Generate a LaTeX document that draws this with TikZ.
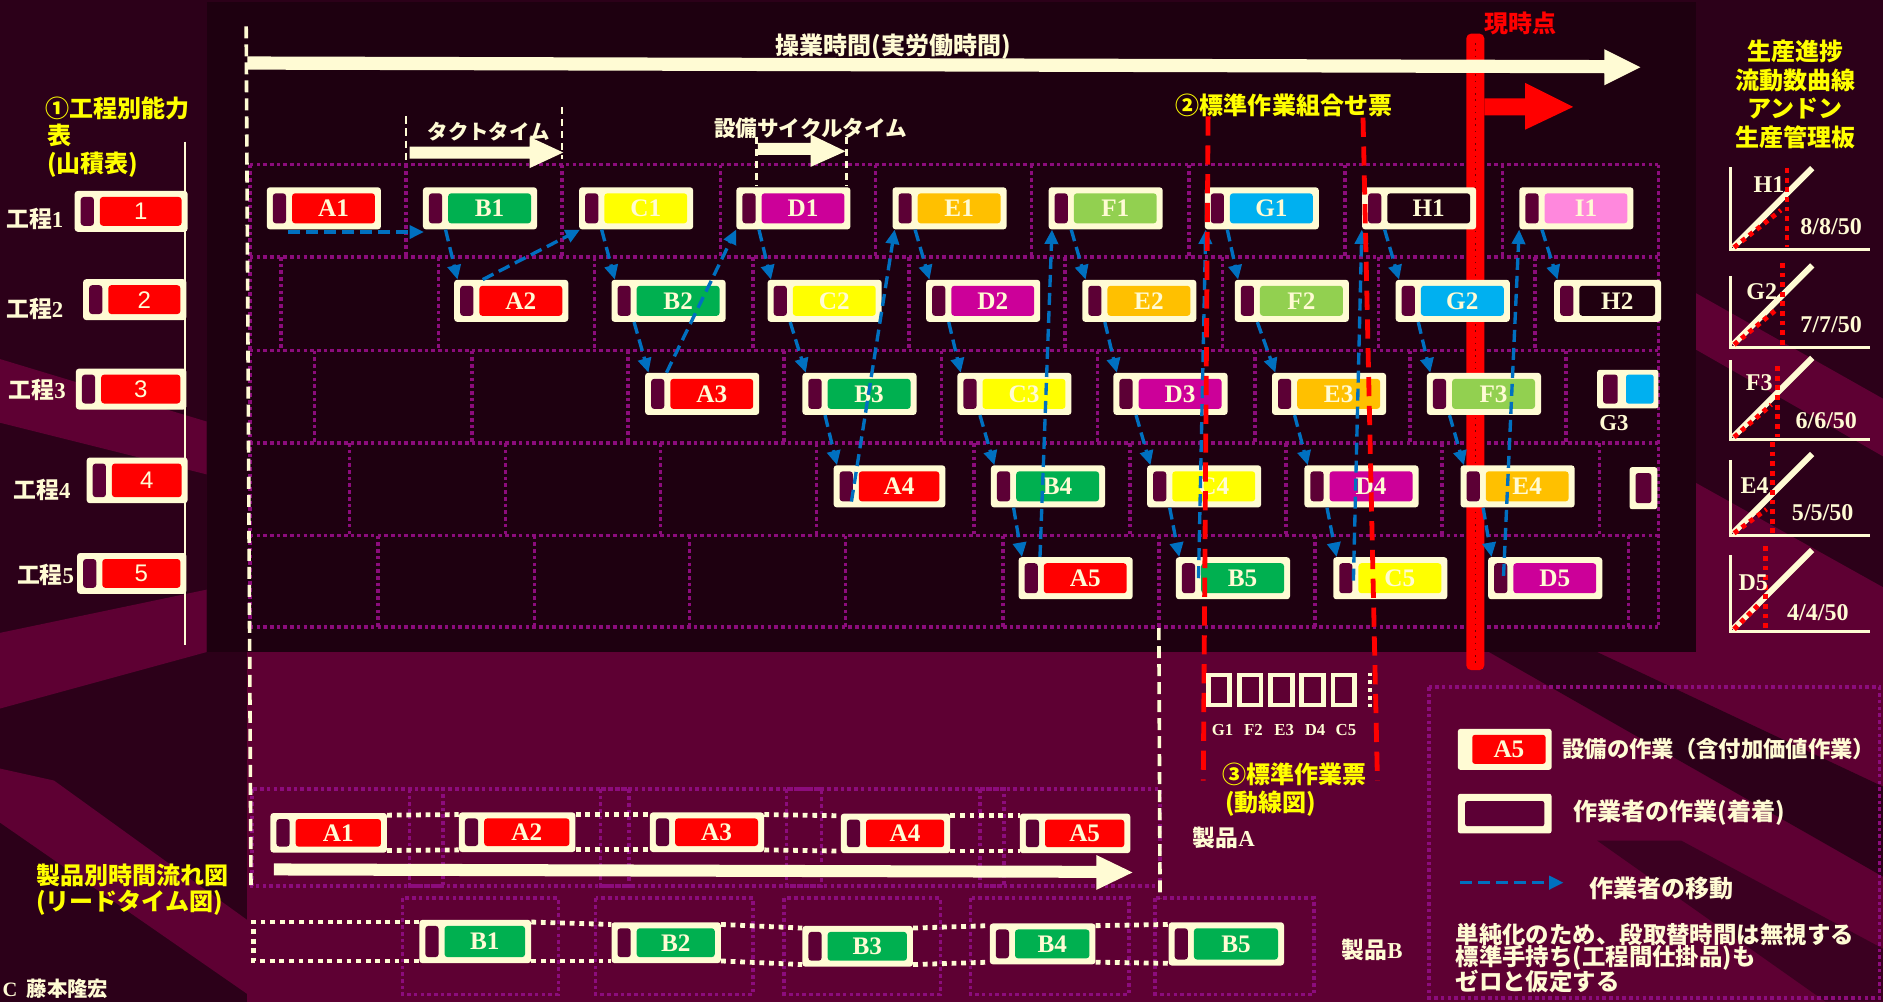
\documentclass[tikz,border=0pt]{standalone}
\usepackage{fontspec}
\setmainfont{Liberation Serif}
\newfontfamily\jp{Noto Sans CJK JP}
\newfontfamily\arialf{Liberation Sans}
\usetikzlibrary{arrows.meta,calc}

\definecolor{cream}{HTML}{FFFBD4}
\definecolor{bgdark}{HTML}{2C0019}
\definecolor{panelc}{HTML}{1E0010}
\definecolor{bandc}{HTML}{5E0033}
\definecolor{slotc}{HTML}{5C0035}
\definecolor{gridc}{HTML}{8C0C7C}
\definecolor{bluec}{HTML}{0070C0}
\definecolor{redc}{HTML}{FF0000}
\definecolor{cA}{HTML}{FF0000}
\definecolor{cB}{HTML}{00B050}
\definecolor{cC}{HTML}{FFFF00}
\definecolor{cD}{HTML}{CC0099}
\definecolor{cE}{HTML}{FFC000}
\definecolor{cF}{HTML}{92D050}
\definecolor{cG}{HTML}{00B0F0}
\definecolor{cH}{HTML}{200010}
\definecolor{cI}{HTML}{FF88DD}
\definecolor{yel}{HTML}{FFFF00}

\tikzset{
  tb/.style={fill=cream, rounded corners=2.5pt, minimum width=95pt, minimum height=35pt,
    inner sep=0pt, text=cream, font=\bfseries\fontsize{21}{21}\selectfont},
  gridl/.style={draw=gridc, line width=3pt, dash pattern=on 3pt off 2.6pt},
  mv/.style={draw=bluec, line width=2.8pt, dash pattern=on 10pt off 5pt,
    -{Triangle[length=12pt,width=11pt]}},
  jt/.style={text=cream, font=\jp\bfseries\fontsize{20}{24}\selectfont, inner sep=0pt},
  yt/.style={jt, text=yel},
  ct/.style={text=cream, font=\bfseries\fontsize{20}{20}\selectfont, inner sep=0pt},
  cdash/.style={draw=cream, line width=3pt, dash pattern=on 10pt off 5pt},
  cdots/.style={draw=cream, line width=4pt, dash pattern=on 4pt off 4pt},
  rdash/.style={draw=redc, line width=4pt, dash pattern=on 16pt off 8pt},
  reddot/.style={draw=redc, line width=4pt, dash pattern=on 4pt off 4pt},
  bufbox/.style={draw=cream, line width=4pt, minimum width=18pt, minimum height=25pt, inner sep=0pt},
}

\newcommand\taskbox[6][]{%
  \node[tb,#1,anchor=west,path picture={%
    \fill[slotc] ([xshift=5pt,yshift=-5pt]path picture bounding box.north west)
      rectangle ([xshift=16pt,yshift=5pt]path picture bounding box.south west);
    \fill[#5] ([xshift=21pt,yshift=-5pt]path picture bounding box.north west)
      rectangle ([xshift=-5pt,yshift=5pt]path picture bounding box.south east);}]
    (#2) at (#3,#4) {\hspace*{16pt}#6};}

\newcommand\chartax[6]{%
  \coordinate (#1o) at (1441,#2);
  \draw[cream, line width=2.5pt] (1441,#3) -- (#1o) -- (1557,#2);
  \draw[cream, line width=5pt] ($(#1o)+(2,-2)$) -- ($(#1o)+(68,-68)$);
  \draw[reddot] (#4,#5) -- (#4,#2-2);
  \draw[reddot] ($(#1o)+(3,-2)$) -- (#4-5,#6);}

\begin{document}
\begin{tikzpicture}[x=1pt,y=-1pt]
\useasboundingbox (0,0) rectangle (1568,834);
\clip (0,0) rectangle (1568,834);
% ---------- background ----------
\fill[bgdark] (0,0) rectangle (1568,834);
\fill[bandc] (0,299) -- (172,351) -- (172,395) -- (0,352) -- cycle;
\fill[bandc] (0,527) -- (172,491) -- (172,543) -- (0,590) -- cycle;
\fill[bandc] (206,543) rectangle (1568,834);
\fill[bandc] (0,640) -- (45,650) -- (300,834) -- (215,834) -- (0,685) -- cycle;
\fill[bandc] (1412,244) -- (1568,332) -- (1568,380) -- (1412,291) -- cycle;
\fill[bandc] (1412,402) -- (1568,489) -- (1568,543) -- (1412,543) -- cycle;
\fill[bgdark] (1240,543) -- (1330,543) -- (1568,655) -- (1568,730) -- cycle;
\fill[bgdark!70!bandc] (1330,700) -- (1400,700) -- (1568,790) -- (1568,834) -- (1520,834) -- cycle;
\fill[panelc] (172,2) rectangle (1412,543);

% ---------- grid ----------
\foreach \y in {137,214,292,369,446,522} \draw[gridl] (208,\y) -- (1381,\y);
\draw[gridl] (208,137) -- (208,522);
\draw[gridl] (1381,137) -- (1381,522);
\foreach \x in {338,468,600,729,859,990,1120,1251} \draw[gridl] (\x,137) -- (\x,214);
\foreach \x in {234,365,495,627,757,887,1018,1148,1278} \draw[gridl] (\x,214) -- (\x,292);
\foreach \x in {262,393,523,653,784,914,1045,1174,1304} \draw[gridl] (\x,292) -- (\x,369);
\foreach \x in {291,421,550,680,811,941,1071,1201,1332} \draw[gridl] (\x,369) -- (\x,446);
\foreach \x in {315,445,574,704,835,965,1095,1225,1356} \draw[gridl] (\x,446) -- (\x,522);

% product rows grid
\foreach \a/\b in {210/369,341/524,500/684,655/836,816/966} \draw[gridl] (\a,657) rectangle (\b,738);
\foreach \a/\b in {335/465,496/627,653/783,808/940,962/1094} \draw[gridl] (\a,748) rectangle (\b,828);
% legend frame
\draw[gridl] (1190,572) rectangle (1565,831);

% ---------- red current-time bar ----------
\fill[redc, rounded corners=4pt] (1221,28) rectangle (1236,558);
\draw[draw=red!45!black, line width=1.2pt, dash pattern=on 1.2pt off 4pt] (1228.5,36) -- (1228.5,552);
\fill[redc] (1236,82) -- (1270,82) -- (1270,69) -- (1310,89) -- (1270,108) -- (1270,96) -- (1236,96) -- cycle;
\node[jt, text=redc] (now) at (1266,19.5) {現時点};

% ---------- top arrow & headings ----------
\draw[cdash] (205,22) -- (209,738);
\draw[cdash] (965,523) -- (966,748);
\fill[cream] (206,47) -- (1336,50) -- (1336,41) -- (1366,56) -- (1336,71) -- (1336,61) -- (206,58) -- cycle;
\node[jt] (optime) at (744,39) {操業時間(実労働時間)};

\draw[cdash, line width=2.2pt, dash pattern=on 6pt off 4pt] (338,97) -- (338,133);
\draw[cdash, line width=2.2pt, dash pattern=on 6pt off 4pt] (468,89) -- (468,132);
\fill[cream] (341,122) -- (441,122) -- (441,114) -- (469,127) -- (441,140) -- (441,132) -- (341,132) -- cycle;
\node[jt, font=\jp\bfseries\fontsize{17}{20}\selectfont] (takt) at (407,110) {タクトタイム};

\draw[cdash, line width=2.2pt, dash pattern=on 6pt off 4pt] (630,114) -- (630,155);
\draw[cdash, line width=2.2pt, dash pattern=on 6pt off 4pt] (705,114) -- (705,155);
\fill[cream] (631,119) -- (675,119) -- (675,112) -- (704,126) -- (675,139) -- (675,129) -- (631,129) -- cycle;
\node[jt, font=\jp\bfseries\fontsize{18}{20}\selectfont] (cycle) at (675,107) {設備サイクルタイム};

\node[yt, anchor=west] (swc) at (979,88) {②標準作業組合せ票};

% right headings
\node[yt] (rh1) at (1495,43) {生産進捗};
\node[yt] (rh2) at (1495,67) {流動数曲線};
\node[yt] (rh3) at (1495,90) {アンドン};
\node[yt] (rh4) at (1495,114) {生産管理板};

% left headings
\node[yt, anchor=west] (lh1) at (38,90) {①工程別能力};
\node[yt, anchor=west] (lh2) at (39,113) {表};
\node[yt, anchor=west] (lh3) at (39,137) {(山積表)};
\draw[cream, line width=2.2pt] (154,118) -- (154,537);

% process boxes (left)
\taskbox[minimum width=94pt,minimum height=34pt,font=\arialf\fontsize{20}{20}\selectfont]{P1}{62}{176}{cA}{1}
\taskbox[minimum width=86pt,minimum height=34pt,font=\arialf\fontsize{20}{20}\selectfont]{P2}{69}{249.5}{cA}{2}
\taskbox[minimum width=92pt,minimum height=34pt,font=\arialf\fontsize{20}{20}\selectfont]{P3}{63}{324}{cA}{3}
\taskbox[minimum width=84pt,minimum height=38pt,font=\arialf\fontsize{20}{20}\selectfont]{P4}{72}{400}{cA}{4}
\taskbox[minimum width=91pt,minimum height=34pt,font=\arialf\fontsize{20}{20}\selectfont]{P5}{64}{477.5}{cA}{5}
\node[jt, anchor=west, font=\jp\bfseries\fontsize{19}{19}\selectfont] (L1) at (5,182) {工程{\rmfamily 1}};
\node[jt, anchor=west, font=\jp\bfseries\fontsize{19}{19}\selectfont] (L2) at (5,257) {工程{\rmfamily 2}};
\node[jt, anchor=west, font=\jp\bfseries\fontsize{19}{19}\selectfont] (L3) at (7,325) {工程{\rmfamily 3}};
\node[jt, anchor=west, font=\jp\bfseries\fontsize{19}{19}\selectfont] (L4) at (11,408) {工程{\rmfamily 4}};
\node[jt, anchor=west, font=\jp\bfseries\fontsize{19}{19}\selectfont] (L5) at (14,479) {工程{\rmfamily 5}};

% ---------- task boxes ----------
\taskbox{A1}{222}{173.5}{cA}{A1}
\taskbox{B1}{352}{173.5}{cB}{B1}
\taskbox{C1}{482}{173.5}{cC}{C1}
\taskbox{D1}{613}{173.5}{cD}{D1}
\taskbox{E1}{743}{173.5}{cE}{E1}
\taskbox{F1}{873}{173.5}{cF}{F1}
\taskbox{G1}{1003}{173.5}{cG}{G1}
\taskbox{H1}{1134}{173.5}{cH}{H1}
\taskbox{I1}{1265}{173.5}{cI}{I1}

\taskbox{A2}{378}{250.5}{cA}{A2}
\taskbox{B2}{509}{250.5}{cB}{B2}
\taskbox{C2}{639}{250.5}{cC}{C2}
\taskbox{D2}{771}{250.5}{cD}{D2}
\taskbox{E2}{901}{250.5}{cE}{E2}
\taskbox{F2}{1028}{250.5}{cF}{F2}
\taskbox{G2}{1162}{250.5}{cG}{G2}
\taskbox[minimum width=89pt]{H2}{1294}{250.5}{cH}{H2}

\taskbox{A3}{537}{328}{cA}{A3}
\taskbox{B3}{668}{328}{cB}{B3}
\taskbox{C3}{797}{328}{cC}{C3}
\taskbox{D3}{927}{328}{cD}{D3}
\taskbox{E3}{1059}{328}{cE}{E3}
\taskbox{F3}{1188}{328}{cF}{F3}

\taskbox[minimum width=93pt]{A4}{694}{405}{cA}{A4}
\taskbox{B4}{825}{405}{cB}{B4}
\taskbox{C4}{955}{405}{cC}{C4}
\taskbox{D4}{1086}{405}{cD}{D4}
\taskbox{E4}{1216}{405}{cE}{E4}

\taskbox{A5}{848}{481.5}{cA}{A5}
\taskbox{B5}{979}{481.5}{cB}{B5}
\taskbox{C5}{1110}{481.5}{cC}{C5}
\taskbox{D5}{1239}{481.5}{cD}{D5}

% G3 small box and row-4 stub
\node[fill=cream, rounded corners=2pt, minimum width=51pt, minimum height=32pt, inner sep=0pt,
  path picture={\fill[slotc] ([xshift=5pt,yshift=-4pt]path picture bounding box.north west)
    rectangle ([xshift=17pt,yshift=4pt]path picture bounding box.south west);
    \fill[cG] ([xshift=24pt,yshift=-4pt]path picture bounding box.north west)
    rectangle ([xshift=-4pt,yshift=4pt]path picture bounding box.south east);}]
  (G3) at (1355.5,324) {};
\node[ct, font=\bfseries\fontsize{19}{19}\selectfont] (G3t) at (1344,352) {G3};
\node[fill=cream, rounded corners=2pt, minimum width=23pt, minimum height=35pt, inner sep=0pt,
  path picture={\fill[slotc] ([xshift=5pt,yshift=-5pt]path picture bounding box.north west)
    rectangle ([xshift=-5pt,yshift=5pt]path picture bounding box.south east);}]
  (X4) at (1368.5,406.5) {};

% ---------- worker movement ----------
\draw[mv] ($(A1.south west)+(18,2)$) -- ($(B1.south west)+(1,2)$);
\foreach \s/\t in {B1/A2,C1/B2,B2/A3,D1/C2,C2/B3,B3/A4,E1/D2,D2/C3,C3/B4,B4/A5,
  F1/E2,E2/D3,D3/C4,C4/B5,G1/F2,F2/E3,E3/D4,D4/C5,H1/G2,G2/F3,F3/E4,E4/D5,I1/H2}
  \draw[mv] ($(\s.south west)+(19,0)$) -- ($(\t.north west)+(3,0)$);
\draw[mv] ($(A2.north west)+(24,0)$) -- ($(C1.south west)+(1,0)$);
\draw[mv] ($(A3.north west)+(18,0)$) -- (D1.south west);
\draw[mv] ($(A4.south west)+(15,-5)$) -- ($(E1.south west)+(2,0)$);
\draw[mv] ($(A5.north west)+(18,0)$) -- ($(F1.south west)+(3,0)$);
\draw[mv] ($(B5.west)+(19,0)$) -- ($(G1.south west)+(1,0)$);
\draw[mv] ($(C5.west)+(17,2)$) -- (H1.south west);
\draw[mv] ($(D5.west)+(13,-2)$) -- (I1.south west);

% ---------- standard work combination lines ----------
\coordinate (rd1t) at (1006,97);
\coordinate (rd1b) at (1002,650);
\coordinate (rd2t) at (1135,98);
\coordinate (rd2b) at (1147,650);
\draw[rdash] (rd1t) -- (rd1b);
\draw[rdash] (rd2t) -- (rd2b);

% standard in-process stock
\foreach \i/\lab in {0/G1,1/F2,2/E3,3/D4,4/C5} {
  \node[bufbox] (S\i) at (1015+26*\i,574.5) {};
  \node[ct, font=\bfseries\fontsize{14}{14}\selectfont] (S\i t) at (1018+25.7*\i,608) {\lab};
}
\draw[cdots, line width=3pt, dash pattern=on 3pt off 3.5pt] (1141,560) -- (1141,590);

\node[yt, anchor=west] (sw1) at (1018,645) {③標準作業票};
\node[yt, anchor=west] (sw2) at (1020,669) {(動線図)};
\node[jt, anchor=west, font=\jp\bfseries\fontsize{19}{19}\selectfont] (prA) at (993,698) {製品{\rmfamily A}};
\node[jt, anchor=west, font=\jp\bfseries\fontsize{19}{19}\selectfont] (prB) at (1117,791) {製品{\rmfamily B}};

% ---------- product lead time rows ----------
\taskbox[minimum width=97pt,minimum height=33pt]{PA1}{225}{693.5}{cA}{A1}
\taskbox[minimum width=97pt,minimum height=33pt]{PA2}{382}{693}{cA}{A2}
\taskbox[minimum width=95pt,minimum height=33pt]{PA3}{541}{693}{cA}{A3}
\taskbox[minimum width=91pt,minimum height=33pt]{PA4}{700}{694}{cA}{A4}
\taskbox[minimum width=92pt,minimum height=33pt]{PA5}{849}{694}{cA}{A5}
\foreach \a/\b in {PA1/PA2,PA2/PA3,PA3/PA4,PA4/PA5} {
  \draw[cdots] ($(\a.north east)+(0,2)$) -- ($(\b.north west)+(0,2)$);
  \draw[cdots] ($(\a.south east)+(0,-2)$) -- ($(\b.south west)+(0,-2)$);
}
\fill[cream] (228,719) -- (913,721) -- (913,712) -- (943,726.5) -- (913,741) -- (913,731) -- (228,729) -- cycle;

\taskbox[minimum width=93pt,minimum height=36pt]{PB1}{349}{784}{cB}{B1}
\taskbox[minimum width=91pt,minimum height=34pt]{PB2}{509}{785}{cB}{B2}
\taskbox[minimum width=92pt,minimum height=34pt]{PB3}{668}{788}{cB}{B3}
\taskbox[minimum width=88pt,minimum height=34pt]{PB4}{824}{786}{cB}{B4}
\taskbox[minimum width=96pt,minimum height=36pt]{PB5}{973}{786}{cB}{B5}
\coordinate (Bst) at (211,784);
\draw[cdots] ($(PB1.north west)+(0,2)$) -- ($(PB1.north west -| Bst)+(0,2)$) -- ($(PB1.south west -| Bst)+(0,-2)$) -- ($(PB1.south west)+(0,-2)$);
\foreach \a/\b in {PB1/PB2,PB2/PB3,PB3/PB4,PB4/PB5} {
  \draw[cdots] ($(\a.north east)+(0,2)$) -- ($(\b.north west)+(0,2)$);
  \draw[cdots] ($(\a.south east)+(0,-2)$) -- ($(\b.south west)+(0,-2)$);
}
\node[yt, anchor=west] (lt1) at (30,729) {製品別時間流れ図};
\node[yt, anchor=west] (lt2) at (30,752) {(リードタイム図)};

% ---------- progress charts ----------
\chartax{ch1}{208}{139}{1488}{140}{175}
\chartax{ch2}{289}{230}{1484}{219}{258}
\chartax{ch3}{366}{300}{1480}{305}{337}
\chartax{ch4}{446}{383}{1476}{368}{424}
\chartax{ch5}{526}{462}{1470}{455}{503}
\node[ct] (ch1l) at (1473,154) {H1};
\node[ct] (ch2l) at (1467,243) {G2};
\node[ct] (ch3l) at (1465,319) {F3};
\node[ct] (ch4l) at (1461,404) {E4};
\node[ct] (ch5l) at (1460,485) {D5};
\node[ct, anchor=west] (ch1v) at (1499,189) {8/8/50};
\node[ct, anchor=west] (ch2v) at (1499,270) {7/7/50};
\node[ct, anchor=west] (ch3v) at (1495,350) {6/6/50};
\node[ct, anchor=west] (ch4v) at (1492,427) {5/5/50};
\node[ct, anchor=west] (ch5v) at (1488,510) {4/4/50};

% ---------- legend ----------
\node[fill=cream, rounded corners=2pt, minimum width=78pt, minimum height=34pt, inner sep=0pt,
  text=cream, font=\bfseries\fontsize{21}{21}\selectfont,
  path picture={\fill[cA] ([xshift=12pt,yshift=-5pt]path picture bounding box.north west)
    rectangle ([xshift=-5pt,yshift=5pt]path picture bounding box.south east);}]
  (LA5) at (1253,624) {\hspace*{7pt}A5};
\node[jt, anchor=west, font=\jp\bfseries\fontsize{18.6}{22}\selectfont] (LA5t) at (1301,624) {設備の作業（含付加価値作業）};
\node[fill=cream, rounded corners=2pt, minimum width=78pt, minimum height=33pt, inner sep=0pt,
  path picture={\fill[slotc] ([xshift=6pt,yshift=-6pt]path picture bounding box.north west)
    rectangle ([xshift=-6pt,yshift=6pt]path picture bounding box.south east);}]
  (LW) at (1253,677.5) {};
\node[jt, anchor=west] (LWt) at (1310,677) {作業者の作業(着着)};
\coordinate (LBa) at (1216,735);
\coordinate (LBb) at (1302,735);
\draw[mv] (LBa) -- (LBb);
\node[jt, anchor=west] (LBt) at (1323,740) {作業者の移動};
\node[jt, anchor=west, font=\jp\bfseries\fontsize{19.5}{20}\selectfont] (n1) at (1212,778) {単純化のため、段取替時間は無視する};
\node[jt, anchor=west, font=\jp\bfseries\fontsize{19.5}{20}\selectfont] (n2) at (1212,798) {標準手持ち(工程間仕掛品)も};
\node[jt, anchor=west, font=\jp\bfseries\fontsize{19.5}{20}\selectfont] (n3) at (1212,817) {ゼロと仮定する};

% copyright
\node[jt, anchor=south west, font=\jp\bfseries\fontsize{17}{17}\selectfont] (copy) at (2,832) {{\rmfamily C}\ \ 藤本隆宏};
\end{tikzpicture}
\end{document}
